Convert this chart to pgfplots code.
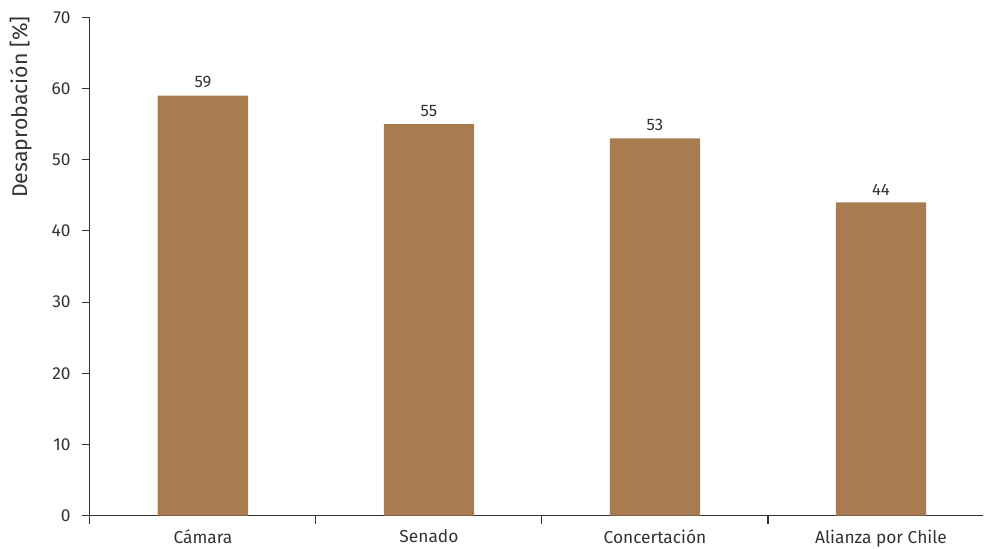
\documentclass[border=0pt]{standalone}
\usepackage{pgfplots}
\pgfplotsset{compat=1.18}
\usepackage{fontspec}
\setmainfont{Fira Sans}
\definecolor{barc}{HTML}{A87C50}
\definecolor{txt}{HTML}{333333}
\begin{document}
\begin{tikzpicture}
\begin{axis}[
  scale only axis,
  width=670pt, height=374pt,
  ymin=0, ymax=70,
  ytick={0,10,...,70},
  xmin=-0.5, xmax=3.45,
  xtick={0,1,2,3},
  xticklabels={Cámara,Senado,Concertación,Alianza por Chile},
  minor xtick={-0.5,0.5,1.5,2.5},
  major x tick style={draw=none},
  minor tick length=6pt,
  major tick length=6pt,
  tick align=outside,
  axis lines*=left,
  axis line style={draw=txt, line width=0.8pt},
  every tick/.style={draw=txt, line width=0.8pt},
  ticklabel style={font=\fontsize{13}{15}\selectfont, text=txt},
  yticklabel style={xshift=-5pt},
  xticklabel style={yshift=-1pt},
  /pgf/number format/assume math mode=true,
  ylabel={Desaprobación [\%]},
  ylabel style={font=\fontsize{16}{18}\selectfont, text=txt, at={(axis description cs:0,0.82)}, anchor=center, yshift=52pt},
  ybar, bar width=0.4,
  nodes near coords,
  every node near coord/.append style={font=\fontsize{12.5}{14}\selectfont, text=txt, yshift=2pt},
  clip=false,
]
\addplot[fill=barc, draw=none] coordinates {(0,59) (1,55) (2,53) (3,44)};
\end{axis}
\pgfresetboundingbox
\path (-67.5pt,-24.5pt) rectangle (671pt,387pt);
\end{tikzpicture}
\end{document}
